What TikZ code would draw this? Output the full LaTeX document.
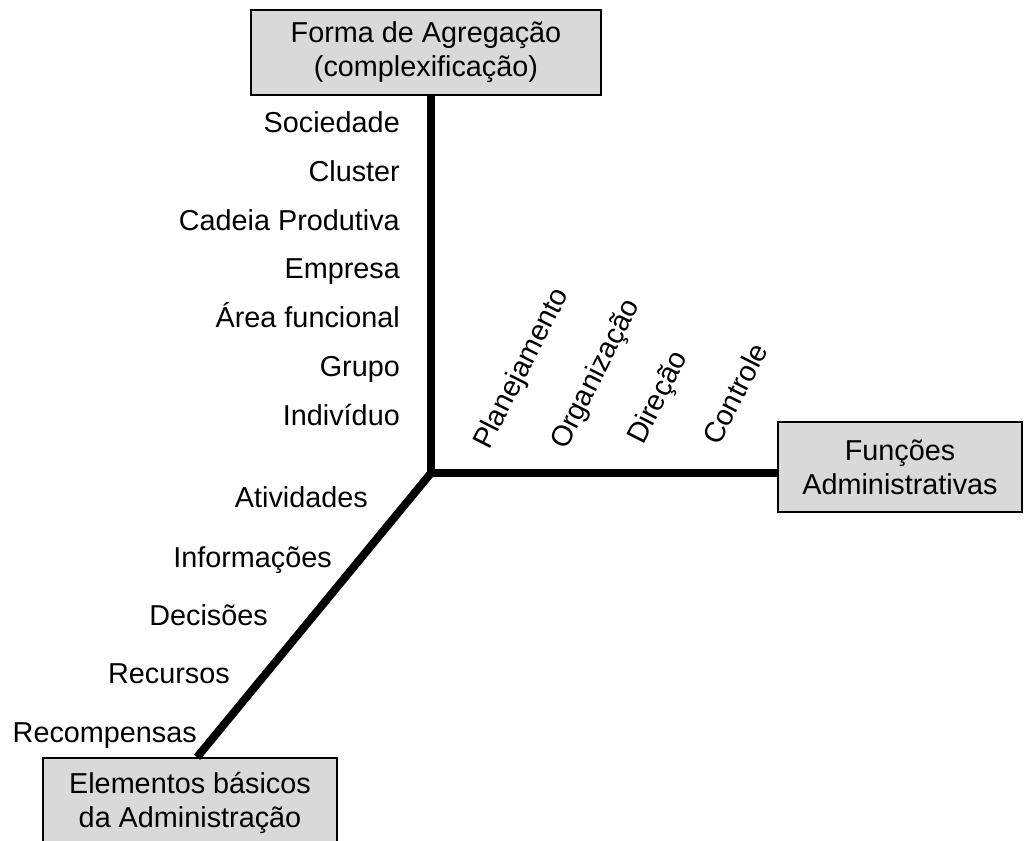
\documentclass[tikz,border=0pt]{standalone}
\usepackage{fontspec}
\setmainfont{Liberation Sans}
\definecolor{boxgray}{HTML}{D9D9D9}
\begin{document}
\begin{tikzpicture}[x=1pt,y=-1pt,
  font=\fontsize{28.8}{34}\selectfont,
  box/.style={draw=black, line width=1.5pt, fill=boxgray, align=center, inner sep=0pt},
  axisline/.style={line width=8pt},
  lbl/.style={anchor=base east, inner sep=0pt},
  rlbl/.style={anchor=base west, inner sep=0pt, rotate=63}]
\useasboundingbox (0,0) rectangle (1024,840);
\clip (0,0) rectangle (1024,840);
% boxes
\node[box, minimum width=350pt, minimum height=85pt] (top) at (426,52.5) {Forma de Agregação\\(complexificação)};
\node[box, minimum width=244pt, minimum height=90pt] (right) at (900,467) {Funções\\Administrativas};
\node[box, minimum width=294pt, minimum height=90pt] (bot) at (190,803) {Elementos básicos\\da Administração};
% axes
\coordinate (j) at (431,473);
\draw[axisline] (j |- top.south) -- (j) -- (j -| right.west);
\draw[axisline] (j) -- ([xshift=7pt]bot.north);
% vertical labels
\node[lbl] (l1) at (400,132) {Sociedade};
\node[lbl] (l2) at (400,181) {Cluster};
\node[lbl] (l3) at (400,230) {Cadeia Produtiva};
\node[lbl] (l4) at (400,278) {Empresa};
\node[lbl] (l5) at (400,327) {Área funcional};
\node[lbl] (l6) at (400,376) {Grupo};
\node[lbl] (l7) at (400,425) {Indivíduo};
% diagonal labels
\node[lbl] (d1) at (368,507) {Atividades};
\node[lbl] (d2) at (332,567) {Informações};
\node[lbl] (d3) at (268,625) {Decisões};
\node[lbl] (d4) at (230,683) {Recursos};
\node[lbl] (d5) at (197,742) {Recompensas};
% rotated labels
\node[rlbl] (r1) at (489,451) {Planejamento};
\node[rlbl] (r2) at (566,451) {Organização};
\node[rlbl] (r3) at (643,446) {Direção};
\node[rlbl] (r4) at (719,447) {Controle};
\end{tikzpicture}
\end{document}
